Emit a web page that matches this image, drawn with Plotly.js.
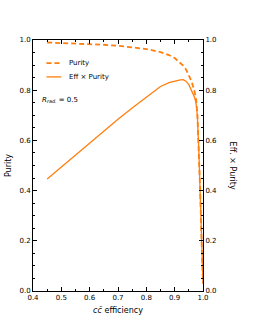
<!DOCTYPE html>
<html><head><meta charset="utf-8">
<script src="https://cdn.plot.ly/plotly-3.0.1.min.js"></script>
<style>html,body{margin:0;padding:0;background:#fff;}#chart{width:254px;height:327px;}</style>
</head><body><div id="chart"></div>
<script>
const efficiency = [0.45, 0.50, 0.55, 0.60, 0.65, 0.70, 0.75, 0.80, 0.85, 0.88, 0.90, 0.92, 0.93, 0.94, 0.95, 0.96, 0.97, 0.975, 0.98, 0.985, 0.99, 0.995, 1.0];
const purity = [0.990, 0.988, 0.986, 0.984, 0.981, 0.977, 0.972, 0.964, 0.952, 0.940, 0.928, 0.910, 0.898, 0.883, 0.862, 0.835, 0.795, 0.770, 0.710, 0.580, 0.400, 0.200, 0.030];
const effTimesPurity = [0.446, 0.494, 0.542, 0.590, 0.638, 0.684, 0.729, 0.772, 0.815, 0.830, 0.837, 0.841, 0.842, 0.836, 0.822, 0.800, 0.772, 0.752, 0.700, 0.570, 0.400, 0.200, 0.030];
const xTicks = [0.4, 0.5, 0.6, 0.7, 0.8, 0.9, 1.0];
const yTicks = [0.0, 0.2, 0.4, 0.6, 0.8, 1.0];
const labelPurity = 'Purity';
const labelEP = 'Eff \u00d7 Purity';

const orange = '#ff7f0e';
const font = {family: 'DejaVu Sans', size: 7, color: '#000'};
const axisCommon = {
  ticks: 'inside', ticklen: 4, tickwidth: 1, tickcolor: '#000',
  showline: true, linecolor: '#000', linewidth: 1,
  showgrid: false, zeroline: false, tickfont: font
};
const minorY = {ticks: 'inside', ticklen: 2, tickcolor: '#000', tickwidth: 1, dtick: 0.05, tick0: 0, showgrid: false};

const dashPurity = '5px,3px';
const traces = [
  {x: efficiency, y: purity, name: labelPurity, type: 'scatter', mode: 'lines',
   line: {color: orange, width: 1.8, dash: dashPurity}, yaxis: 'y'},
  {x: efficiency, y: effTimesPurity, name: labelEP, type: 'scatter', mode: 'lines',
   line: {color: orange, width: 1.3}, yaxis: 'y2'}
];

// hand-made legend (short line samples as in the reference)
const legendRows = [
  {label: labelPurity, y: 0.908, dash: dashPurity, width: 1.8},
  {label: labelEP, y: 0.853, dash: 'solid', width: 1.3}
];
const shapes = legendRows.map(r => ({type: 'line', xref: 'paper', yref: 'paper',
  x0: 0.079, x1: 0.167, y0: r.y, y1: r.y, line: {color: orange, width: r.width, dash: r.dash}}));
const legendTexts = legendRows.map(r => ({xref: 'paper', yref: 'paper', x: 0.2, y: r.y,
  xanchor: 'left', yanchor: 'middle', showarrow: false, text: r.label, font: font}));

const layout = {
  width: 254, height: 327,
  margin: {l: 32.5, r: 51, t: 40, b: 36},
  paper_bgcolor: '#fff', plot_bgcolor: '#fff',
  font: font,
  showlegend: false,
  xaxis: Object.assign({}, axisCommon, {
    range: [0.4, 1.0], tickvals: xTicks, ticktext: xTicks.map(v => v.toFixed(1)),
    mirror: 'ticks',
    minor: {ticks: 'inside', ticklen: 2, tickcolor: '#000', tickwidth: 1, dtick: 0.05, tick0: 0.4, showgrid: false},
    title: {text: '<i>c</i><i>c\u0304</i> efficiency', font: {family: 'DejaVu Sans', size: 8, color: '#000'}, standoff: 5}
  }),
  yaxis: Object.assign({}, axisCommon, {
    range: [0, 1.0], tickvals: yTicks, ticktext: yTicks.map(v => v.toFixed(1)),
    minor: minorY,
    title: {text: 'Purity', font: {family: 'DejaVu Sans', size: 8, color: '#000'}, standoff: 6}
  }),
  yaxis2: Object.assign({}, axisCommon, {
    range: [0, 1.0], tickvals: yTicks, ticktext: yTicks.map(v => v.toFixed(1)),
    overlaying: 'y', side: 'right', anchor: 'x',
    minor: minorY
  }),
  shapes: shapes,
  annotations: legendTexts.concat([
    {xref: 'paper', yref: 'paper', x: 0.04, y: 0.76, xanchor: 'left', yanchor: 'middle', showarrow: false,
     text: '<i>R</i><sub><i>rad.</i></sub> = 0.5', font: font},
    {xref: 'paper', yref: 'paper', x: 1.176, y: 0.5, xanchor: 'center', yanchor: 'middle', showarrow: false,
     textangle: 90, text: 'Eff. \u00d7 Purity', font: {family: 'DejaVu Sans', size: 8, color: '#000'}}
  ])
};

Plotly.newPlot('chart', traces, layout, {displayModeBar: false, staticPlot: true});
</script>
</body></html>
